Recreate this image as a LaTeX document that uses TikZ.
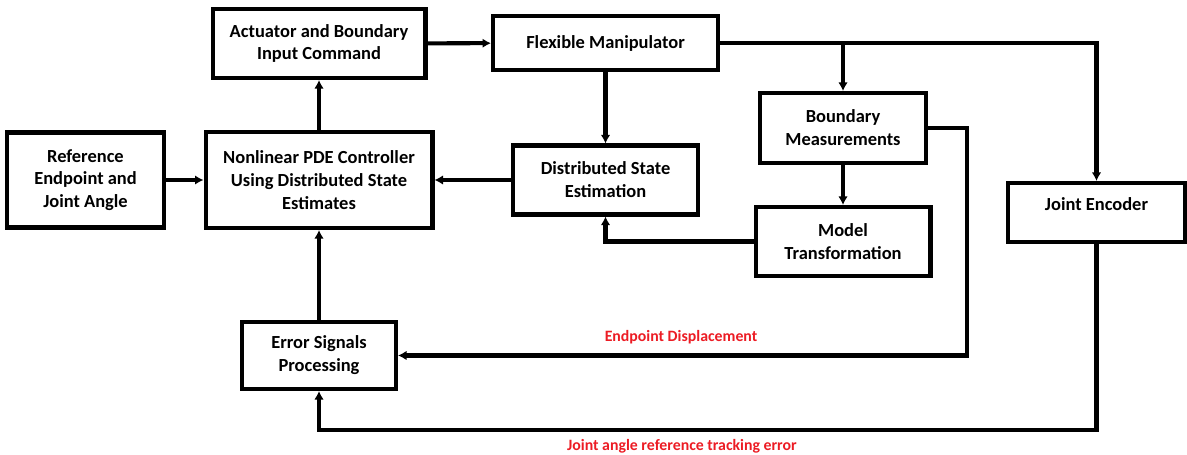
\documentclass[tikz,border=0pt]{standalone}
\usepackage{fontspec}
\setmainfont{Carlito}
\usepackage{tikz}
\usetikzlibrary{arrows.meta, positioning, calc}
\definecolor{sigred}{RGB}{236, 28, 36}

\begin{document}
\begin{tikzpicture}[x=0.02cm, y=-0.02cm, every node/.style={font=\bfseries\fontsize{10.5}{13}\selectfont},
  block/.style={draw, line width=2.3pt, align=center, inner sep=2pt},
  link/.style={line width=2.3pt, -{Latex[length=1.7mm, width=1.9mm]}},
  sig/.style={text=sigred, font=\bfseries\fontsize{9}{11}\selectfont}]
\useasboundingbox (0,0) rectangle (1187,455);
\node[block, minimum width=3.14cm, minimum height=1.9cm] (ref) at (85.5,180) {Reference\\Endpoint and\\Joint Angle};
\node[block, minimum width=4.54cm, minimum height=1.92cm] (ctrl) at (319,180) {Nonlinear PDE Controller\\Using Distributed State\\Estimates};
\node[block, minimum width=4.26cm, minimum height=1.38cm] (act) at (319,43.5) {Actuator and Boundary\\Input Command};
\node[block, minimum width=4.5cm, minimum height=1.08cm] (flex) at (605.5,43) {Flexible Manipulator};
\node[block, minimum width=3.7cm, minimum height=1.38cm] (dist) at (605.5,180) {Distributed State\\Estimation};
\node[block, minimum width=3.32cm, minimum height=1.4cm] (bnd) at (843,128) {Boundary\\Measurements};
\node[block, minimum width=3.5cm, minimum height=1.38cm] (model) at (843,241.5) {Model\\Transformation};
\node[block, minimum width=3.54cm, minimum height=1.18cm] (enc) at (1096.5,212.5) {Joint Encoder\\[-3pt]\mbox{}};
\node[block, minimum width=3.08cm, minimum height=1.34cm] (err) at (319,355.5) {Error Signals\\Processing};
\node[sig] (displ) at (681,337) {Endpoint Displacement};
\node[sig] (trackerr) at (682,446) {Joint angle reference tracking error};
\coordinate (bndturn) at (967,128);
\coordinate (encturn) at (1096.5,430);
\draw[link] (ref) -- (ctrl);
\draw[link] (ctrl) -- (act);
\draw[link] (act) -- (flex);
\draw[link] (flex.east) -| (bnd.north);
\draw[link] (flex.east) -| (enc.north);
\draw[link] (flex) -- (dist);
\draw[link] (dist) -- (ctrl);
\draw[link] (bnd) -- (model);
\draw[link] (model.west) -| (dist.south);
\draw[link] (bnd.east) -- (bndturn) |- (err.east);
\draw[link] (enc.south) -- (encturn) -| (err.south);
\draw[link] (err) -- (ctrl);
\end{tikzpicture}
\end{document}
